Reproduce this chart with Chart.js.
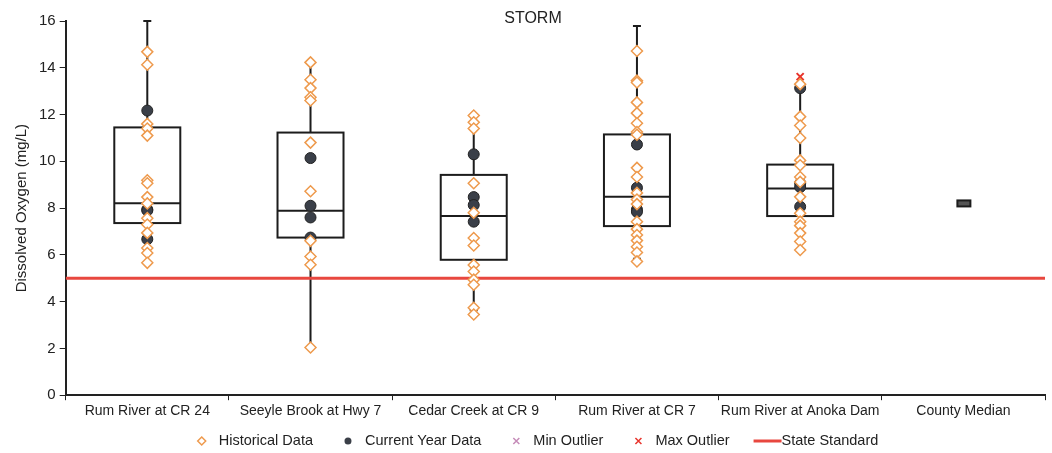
<!DOCTYPE html>
<html>
<head>
<meta charset="utf-8">
<script src="https://cdn.jsdelivr.net/npm/chart.js@4"></script>
<style>
  html, body { margin: 0; padding: 0; background: #fff; }
  #wrap { width: 1052px; height: 453px; position: relative; }
</style>
</head>
<body>
<div id="wrap"><canvas id="doChart"></canvas></div>
<script>
// categorias (sitios)
const categories = ['Rum River at CR 24', 'Seeyle Brook at Hwy 7', 'Cedar Creek at CR 9',
  'Rum River at CR 7', 'Rum River at Anoka Dam', 'County Median'];

// estadisticas de cada caja (mg/L)
const boxMin    = [5.66, 2.05, 3.63, 5.83, 6.21, null];
const boxQ1     = [7.36, 6.74, 5.79, 7.23, 7.66, null];
const boxMedian = [8.21, 7.89, 7.66, 8.48, 8.84, 8.2];
const boxQ3     = [11.45, 11.23, 9.42, 11.15, 9.86, null];
const boxMax    = [16.0, 14.2, 11.96, 15.79, 13.16, null];

// datos historicos
const histCR24   = [14.68, 14.13, 11.6, 11.4, 11.1, 9.19, 9.06, 8.47, 8.2, 7.57, 7.3, 6.94, 6.29, 6.08, 5.66];
const histSeeyle = [14.23, 13.49, 13.13, 12.74, 12.6, 10.8, 8.72, 6.6, 5.93, 5.58, 2.04];
const histCedar  = [11.96, 11.67, 11.4, 9.06, 7.8, 6.72, 6.4, 5.57, 5.29, 4.94, 4.72, 3.74, 3.45];
const histCR7    = [14.72, 13.45, 13.37, 12.52, 12.06, 11.63, 11.25, 11.14, 9.72, 9.33, 8.65, 8.37, 8.17, 7.42, 7.1, 6.85, 6.61, 6.35, 6.1, 5.72];
const histAnoka  = [13.3, 11.91, 11.53, 11.0, 10.04, 9.83, 9.33, 9.12, 8.48, 7.78, 7.42, 7.25, 6.93, 6.57, 6.21];

// datos del año actual
const curCR24   = [12.17, 7.94, 7.9, 6.67];
const curSeeyle = [10.14, 8.1, 7.6, 6.74];
const curCedar  = [10.3, 8.47, 8.13, 7.42];
const curCR7    = [10.72, 8.87, 7.94, 7.84];
const curAnoka  = [13.13, 9.06, 8.9, 8.06];

// outliers
const minOutliers = [];
const maxOutliers = [{ site: 'Rum River at Anoka Dam', value: 13.62 }];

const stateStandard = 5;
const yTicks = [0, 2, 4, 6, 8, 10, 12, 14, 16];

const FONT = 'Arial, "Liberation Sans", sans-serif';
const ORANGE = '#EE9A4D';
const DARK = '#3a3f48';
const RED = '#E8473F';

function toPoints(site, values) {
  return values.map(v => ({ x: site, y: v }));
}

const historical = [histCR24, histSeeyle, histCedar, histCR7, histAnoka]
  .flatMap((vals, i) => toPoints(categories[i], vals));
const current = [curCR24, curSeeyle, curCedar, curCR7, curAnoka]
  .flatMap((vals, i) => toPoints(categories[i], vals));

Chart.defaults.font.family = FONT;
Chart.defaults.color = '#222';

// dibuja cajas, bigotes y medianas usando las escalas
const boxPlotPlugin = {
  id: 'boxPlot',
  beforeDatasetsDraw(chart) {
    const { ctx, scales: { x, y } } = chart;
    ctx.save();
    ctx.strokeStyle = '#1c1c1c';
    ctx.lineWidth = 2;
    categories.forEach((cat, i) => {
      const cx = x.getPixelForValue(i);
      const ym = y.getPixelForValue(boxMedian[i]);
      if (boxQ1[i] == null) {
        ctx.fillStyle = '#555';
        ctx.fillRect(cx - 6, ym - 3, 13, 6);
        ctx.strokeRect(cx - 6, ym - 3, 13, 6);
        return;
      }
      const half = 33;
      const y1 = y.getPixelForValue(boxQ1[i]);
      const y3 = y.getPixelForValue(boxQ3[i]);
      const yMin = y.getPixelForValue(boxMin[i]);
      const yMax = y.getPixelForValue(boxMax[i]);
      ctx.beginPath();
      ctx.moveTo(cx, y3); ctx.lineTo(cx, yMax);
      ctx.moveTo(cx, y1); ctx.lineTo(cx, yMin);
      ctx.moveTo(cx - 4, yMax); ctx.lineTo(cx + 4, yMax);
      ctx.moveTo(cx - 4, yMin); ctx.lineTo(cx + 4, yMin);
      ctx.stroke();
      ctx.strokeRect(cx - half, y3, half * 2, y1 - y3);
      ctx.beginPath();
      ctx.moveTo(cx - half, ym); ctx.lineTo(cx + half, ym);
      ctx.stroke();
    });
    ctx.restore();
  },
  afterDraw(chart) {
    const { ctx } = chart;
    ctx.save();
    ctx.fillStyle = '#222';
    ctx.font = '16px ' + FONT;
    ctx.textAlign = 'center';
    ctx.textBaseline = 'middle';
    ctx.fillText('STORM', 533, 19);
    ctx.restore();
  }
};

// leyenda propia debajo del eje (los marcadores siguen el estilo de cada dataset)
const legendPlugin = {
  id: 'bottomLegend',
  afterDraw(chart) {
    const { ctx } = chart;
    const items = chart.data.datasets.map(ds => ({ text: ds.label, kind: ds.legendKind, color: ds.borderColor }));
    ctx.save();
    ctx.font = '14.5px ' + FONT;
    ctx.textBaseline = 'middle';
    const yc = 441;
    const markerGap = 17, itemGap = 35, lineLen = 28;
    let total = 0;
    items.forEach((it, i) => {
      it.w = ctx.measureText(it.text).width;
      total += it.kind === 'line' ? lineLen + it.w : markerGap + it.w;
      if (i > 0) total += it.kind === 'line' ? itemGap - 11 : itemGap;
    });
    let x = 540 - total / 2;
    items.forEach((it, i) => {
      if (i > 0) x += it.kind === 'line' ? itemGap - 11 : itemGap;
      ctx.strokeStyle = it.color;
      ctx.fillStyle = it.color;
      if (it.kind === 'line') {
        ctx.lineWidth = 3;
        ctx.beginPath(); ctx.moveTo(x, yc); ctx.lineTo(x + lineLen, yc); ctx.stroke();
        x += lineLen;
      } else {
        const r = 4;
        ctx.lineWidth = 1.5;
        ctx.beginPath();
        if (it.kind === 'diamond') {
          ctx.moveTo(x, yc - r); ctx.lineTo(x + r, yc); ctx.lineTo(x, yc + r); ctx.lineTo(x - r, yc); ctx.closePath();
          ctx.stroke();
        } else if (it.kind === 'dot') {
          ctx.arc(x, yc, 3.5, 0, Math.PI * 2);
          ctx.fill();
        } else {
          ctx.moveTo(x - 3, yc - 3); ctx.lineTo(x + 3, yc + 3);
          ctx.moveTo(x + 3, yc - 3); ctx.lineTo(x - 3, yc + 3);
          ctx.stroke();
        }
        x += markerGap;
      }
      ctx.fillStyle = '#222';
      ctx.fillText(it.text, x, yc);
      x += it.w;
    });
    ctx.restore();
  }
};

const ctx = document.getElementById('doChart').getContext('2d');
new Chart(ctx, {
  type: 'line',
  data: {
    labels: categories,
    datasets: [
      {
        label: 'Historical Data',
        legendKind: 'diamond',
        data: historical,
        showLine: false,
        pointStyle: 'rectRot',
        pointRadius: 5.5,
        pointBorderWidth: 1.5,
        pointBackgroundColor: '#fff',
        borderColor: ORANGE,
        backgroundColor: '#fff'
      },
      {
        label: 'Current Year Data',
        legendKind: 'dot',
        data: current,
        showLine: false,
        pointStyle: 'circle',
        pointRadius: 5.5,
        pointBorderWidth: 1,
        pointBorderColor: '#222',
        borderColor: DARK,
        backgroundColor: DARK,
        pointBackgroundColor: DARK
      },
      {
        label: 'Min Outlier',
        legendKind: 'cross',
        data: minOutliers.map(o => ({ x: o.site, y: o.value })),
        showLine: false,
        pointStyle: 'crossRot',
        pointRadius: 5,
        borderWidth: 2,
        borderColor: '#C58BB8',
        backgroundColor: '#C58BB8'
      },
      {
        label: 'Max Outlier',
        legendKind: 'cross',
        data: maxOutliers.map(o => ({ x: o.site, y: o.value })),
        showLine: false,
        pointStyle: 'crossRot',
        pointRadius: 5,
        borderWidth: 2,
        borderColor: '#E8342C',
        backgroundColor: '#E8342C'
      },
      {
        label: 'State Standard',
        legendKind: 'line',
        data: [{ x: 0, y: stateStandard }, { x: 1, y: stateStandard }],
        xAxisID: 'x2',
        borderColor: RED,
        backgroundColor: RED,
        borderWidth: 3,
        pointRadius: 0
      }
    ]
  },
  plugins: [boxPlotPlugin, legendPlugin],
  options: {
    responsive: true,
    maintainAspectRatio: false,
    animation: false,
    layout: { padding: { top: 21, right: 2, left: 9, bottom: 30 } },
    plugins: {
      legend: { display: false },
      tooltip: { enabled: false }
    },
    scales: {
      x: {
        type: 'category',
        offset: true,
        border: { color: '#222', width: 2 },
        grid: { offset: true, drawOnChartArea: false, tickLength: 5, color: '#222' },
        ticks: { font: { size: 14 }, color: '#222', maxRotation: 0, autoSkip: false, padding: 3 }
      },
      x2: {
        type: 'linear',
        display: false,
        min: 0,
        max: 1
      },
      y: {
        min: 0,
        max: 16,
        afterBuildTicks: axis => { axis.ticks = yTicks.map(v => ({ value: v })); },
        border: { color: '#222', width: 2 },
        grid: { drawOnChartArea: false, tickLength: 6, color: '#222' },
        ticks: { font: { size: 15 }, color: '#222', padding: 4 },
        title: {
          display: true,
          text: 'Dissolved Oxygen (mg/L)',
          font: { size: 15 },
          color: '#222',
          padding: { bottom: 4 }
        }
      }
    }
  }
});
</script>
</body>
</html>
